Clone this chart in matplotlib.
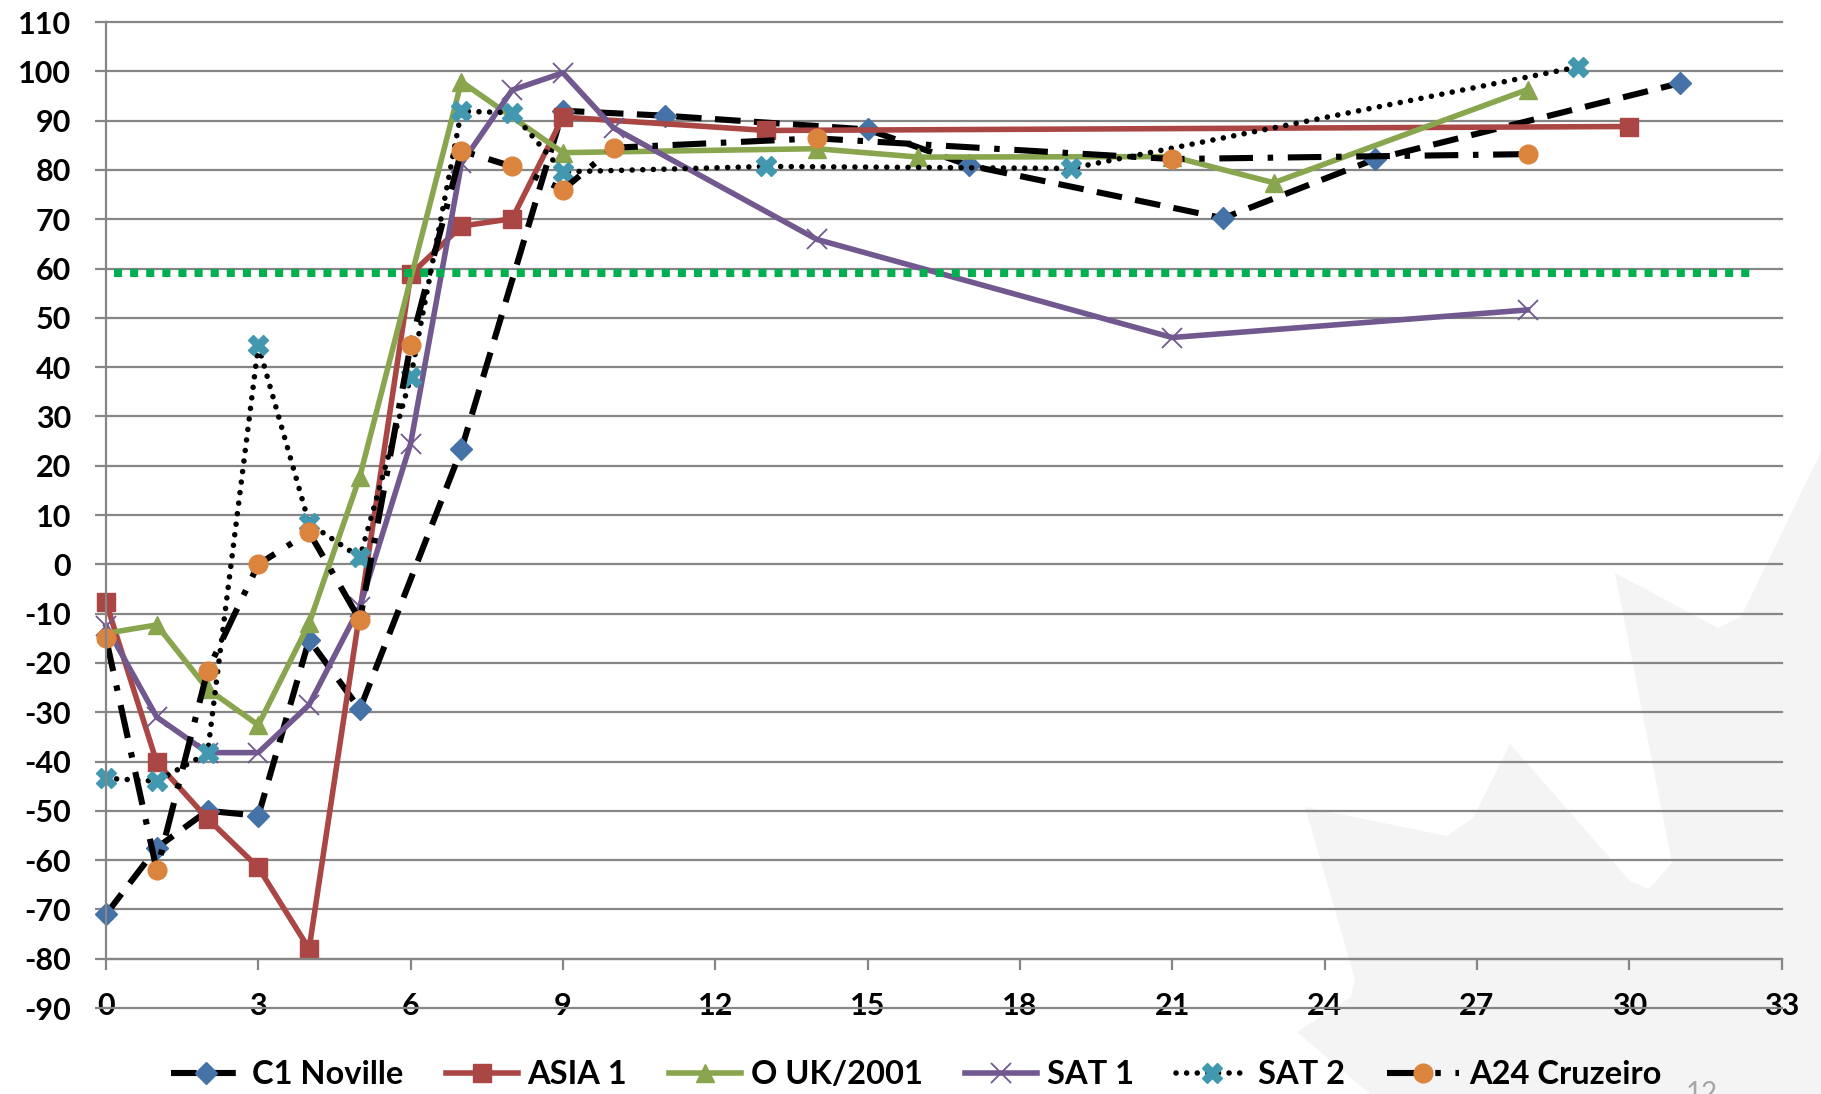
import matplotlib.pyplot as plt
from matplotlib.patches import Polygon

plt.rcParams['font.family'] = ['Lato', 'DejaVu Sans']
plt.rcParams['font.weight'] = 'bold'
plt.rcParams['axes.unicode_minus'] = False

# days post infection vs value
days_c1 = [0, 1, 2, 3, 4, 5, 7, 9, 11, 15, 17, 22, 25, 31]
c1_noville = [-71, -57.5, -50, -51, -15.3, -29.4, 23.3, 92, 91, 88.2, 80.9, 70.2, 82.2, 97.6]

days_asia = [0, 1, 2, 3, 4, 6, 7, 8, 9, 13, 30]
asia1 = [-7.7, -40.2, -51.6, -61.5, -78, 58.8, 68.6, 70.1, 90.7, 88, 88.8]

days_ouk = [0, 1, 2, 3, 4, 5, 7, 9, 14, 16, 21, 23, 28]
o_uk2001 = [-14, -12.3, -25.3, -32.6, -12, 17.8, 97.9, 83.5, 84.3, 82.6, 82.7, 77.4, 96.3]

days_sat1 = [0, 1, 2, 3, 4, 5, 6, 7, 8, 9, 10, 14, 21, 28]
sat1 = [-12.5, -31, -38.2, -38.2, -28.5, -8.6, 24.5, 81.3, 96.2, 99.7, 88.5, 65.9, 46, 51.6]

days_sat2 = [0, 1, 2, 3, 4, 5, 6, 7, 8, 9, 13, 19, 29]
sat2 = [-43.4, -44, -38.3, 44.4, 8.3, 1.4, 37.9, 91.9, 91.6, 79.6, 80.7, 80.3, 100.9]

days_a24 = [0, 1, 2, 3, 4, 5, 6, 7, 8, 9, 10, 14, 21, 28]
a24_cruzeiro = [-15, -62.1, -21.6, 0, 6.5, -11.3, 44.5, 83.9, 80.7, 76, 84.5, 86.4, 82.2, 83.2]

cutoff_x = [0.15, 32.45]
cutoff_y = [59, 59]

W, H = 1821, 1094
fig = plt.figure(figsize=(W / 100, H / 100), dpi=100)

# light watermark shape in the lower right corner (pixel coords)
shape_px = [(1821, 452), (1741, 617), (1718, 628), (1615, 573), (1672, 863), (1649, 889),
            (1630, 881), (1510, 744), (1473, 818), (1447, 836), (1305, 807), (1355, 979),
            (1351, 997), (1297, 1032), (1370, 1094), (1821, 1094)]
fig.patches.append(Polygon([(x / W, 1 - y / H) for x, y in shape_px], closed=True,
                           transform=fig.transFigure, facecolor='#f4f4f4',
                           edgecolor='none', zorder=-5))

ax = fig.add_axes([106 / W, 1 - 1008 / H, (1781.5 - 106) / W, (1008 - 22) / H])
ax.set_facecolor('none')

grey = '#868686'
lw = 4.0

ax.plot(days_c1, c1_noville, color='black', lw=4.4, ls=(0, (4.2, 2.2)),
        marker='D', ms=11, mfc='#4572a7', mec='#4572a7', label='C1 Noville',
        clip_on=False)
ax.plot(days_asia, asia1, color='#aa4643', lw=lw, marker='s', ms=13.5,
        label='ASIA 1', clip_on=False)
ax.plot(days_ouk, o_uk2001, color='#89a54e', lw=lw, marker='^', ms=13.5,
        label='O UK/2001', clip_on=False)
ax.plot(days_sat1, sat1, color='#71588f', lw=lw, marker='x', ms=14, mew=1.3,
        label='SAT 1', clip_on=False)
ax.plot(days_sat2, sat2, color='black', lw=4.0, ls=(0, (0.01, 1.9)),
        dash_capstyle='round', marker='X', ms=15, mfc='#4198af', mec='#4198af',
        label='SAT 2', clip_on=False)
ax.plot(days_a24, a24_cruzeiro, color='black', lw=4.4, ls=(0, (5.5, 2.4, 0.9, 2.4)),
        marker='o', ms=13.5, mfc='#db843d', mec='#db843d', label='A24 Cruzeiro',
        clip_on=False)

ax.plot(cutoff_x, cutoff_y, color='#00b050', lw=5.8, ls=(0, (1, 1)),
        dash_capstyle='butt', zorder=5)

ax.set_xlim(0, 33)
ax.set_ylim(-90, 110)
ax.set_xticks(range(0, 34, 3))
ax.set_yticks(range(-90, 111, 10))

ax.yaxis.grid(True, color=grey, lw=1.6)
for gl in ax.get_ygridlines():
    gl.set_clip_on(False)
ax.set_axisbelow(True)

for s in ['top', 'right']:
    ax.spines[s].set_visible(False)
ax.spines['bottom'].set_position(('data', -80))
ax.spines['left'].set_bounds(-80, 110)
for s in ['bottom', 'left']:
    ax.spines[s].set_color(grey)
    ax.spines[s].set_linewidth(1.6)

ax.tick_params(axis='y', direction='out', length=8, width=1.6, color=grey,
               labelsize=22, pad=17)
ax.tick_params(axis='x', direction='out', length=8, width=1.6, color=grey,
               labelsize=22, pad=16)

fig.legend(loc='center', bbox_to_anchor=(916 / W, 1 - 1075 / H), ncol=6,
           frameon=False, fontsize=23.5, handlelength=2.2, handletextpad=0.3,
           columnspacing=1.3)

fig.text(1686 / W, 1 - 1081 / H, '12', color='#a6a6a6', fontsize=20,
         fontweight='normal', va='top', ha='left')

fig.savefig('out.png', dpi=100)
